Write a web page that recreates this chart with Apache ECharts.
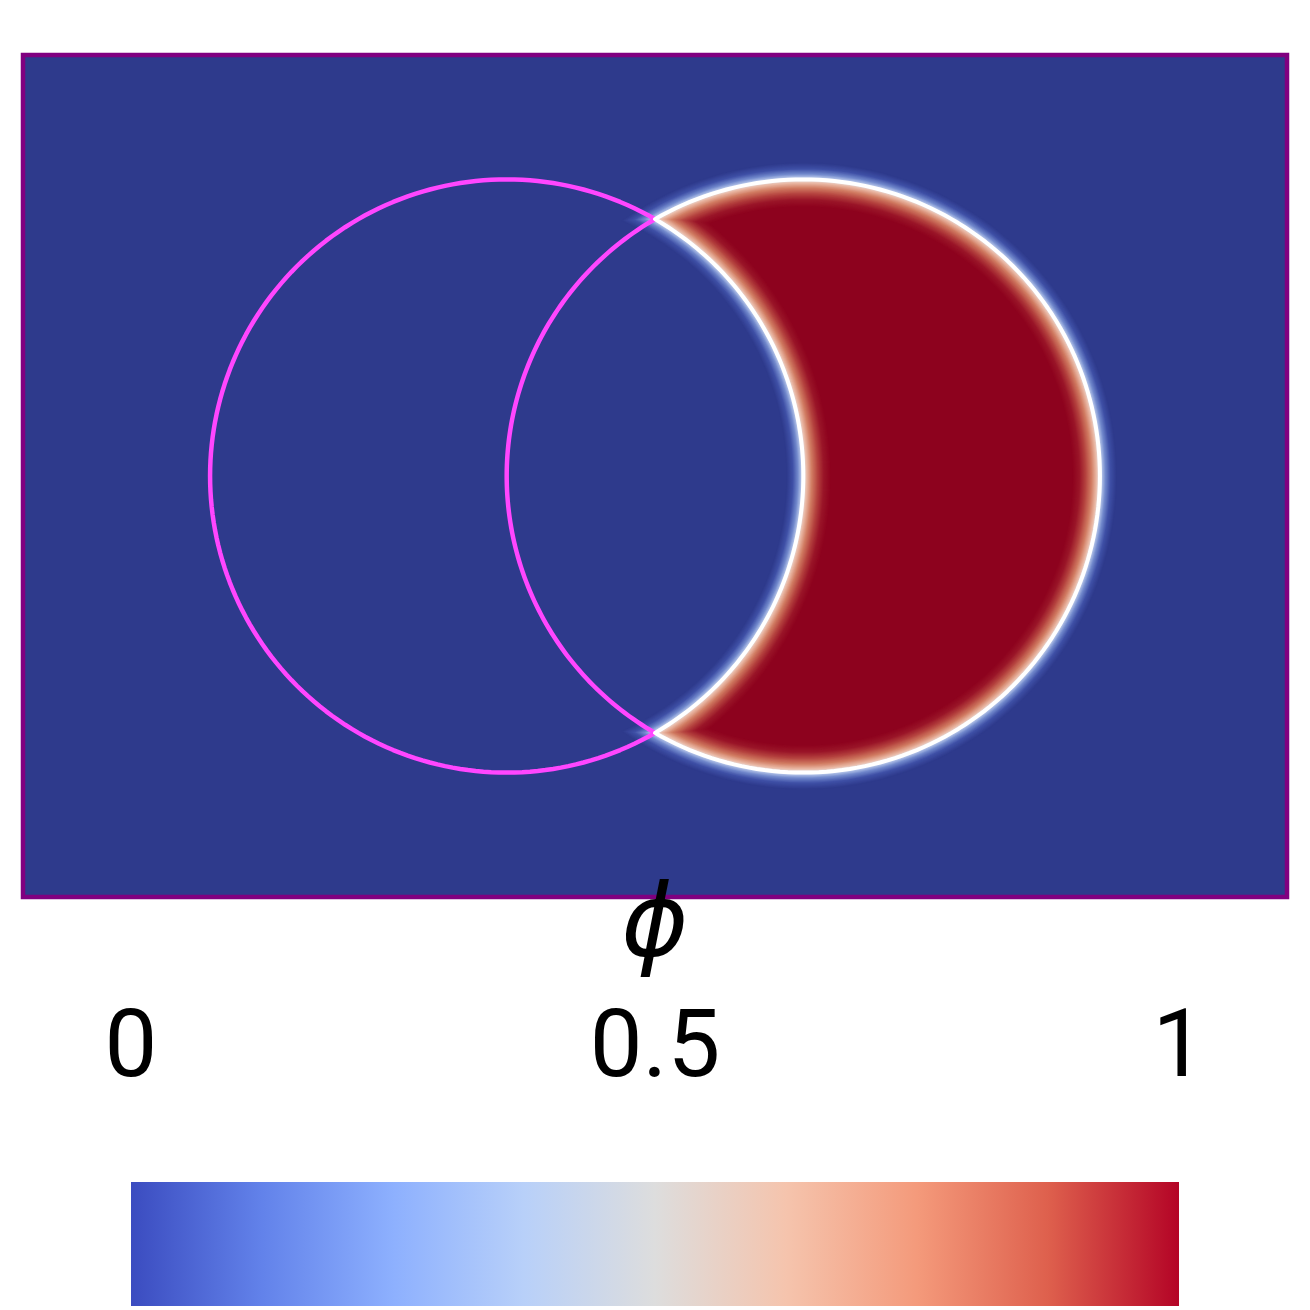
<!DOCTYPE html>
<html>
<head>
<meta charset="utf-8">
<script src="https://cdn.jsdelivr.net/npm/echarts@6/dist/echarts.min.js"></script>
<style>
  html, body { margin: 0; padding: 0; background: #fff; }
  #chart { width: 1310px; height: 1310px; }
</style>
</head>
<body>
<div id="chart"></div>
<script>
// domain of the phi field
const domainX = [0, 1.5];
const domainY = [0, 1];
// two circles: 0 = left (outlined magenta), 1 = right (phi = 1 crescent)
const circleX = [0.574, 0.926];
const circleY = [0.5, 0.5];
const circleR = [0.352, 0.352];
// colour bar
const colorbarTicks = [0, 0.5, 1];
const coolwarmPos = [0, 0.125, 0.25, 0.375, 0.5, 0.625, 0.75, 0.875, 1];
const coolwarmColors = ["#3b4cc0", "#6282ea", "#8db0fe", "#b8d0f9", "#dddddd", "#f5c4ad", "#f49a7b", "#de604d", "#b40426"];

// look of the diffuse interface (px from the circle edge, + = inside)
const edgeOffsets = [-17, -11, -6, -2, 0, 3, 8, 14, 20, 27];
const edgeColors = ["#2e3a8c", "#3f50a6", "#7188cc", "#bccbec", "#e4e2e6", "#eab9a6", "#d17c62", "#b4413e", "#9a1528", "#8d021e"];

function hexRgb(h) {
  return [1, 3, 5].map((i) => parseInt(h.substr(i, 2), 16));
}
function edgeColor(s) {
  if (s <= edgeOffsets[0]) return edgeColors[0];
  for (let i = 1; i < edgeOffsets.length; i++) {
    if (s <= edgeOffsets[i]) {
      const t = (s - edgeOffsets[i - 1]) / (edgeOffsets[i] - edgeOffsets[i - 1]);
      const a = hexRgb(edgeColors[i - 1]), b = hexRgb(edgeColors[i]);
      const c = a.map((v, k) => Math.round(v + (b[k] - v) * t));
      return "rgb(" + c.join(",") + ")";
    }
  }
  return edgeColors[edgeColors.length - 1];
}

// intersection of the two circles, in px
function meet(c0, c1, r0, r1) {
  const d = c1[0] - c0[0];
  const a = (r0 * r0 - r1 * r1 + d * d) / (2 * d);
  const h = Math.sqrt(Math.max(r0 * r0 - a * a, 0));
  return { alpha: Math.atan2(h, c0[0] + a - c1[0]), beta: Math.atan2(h, a) };
}

function arc(c, r, t0, t1, n, pts) {
  for (let i = 0; i <= n; i++) {
    const t = t0 + ((t1 - t0) * i) / n;
    pts.push([c[0] + r * Math.cos(t), c[1] + r * Math.sin(t)]);
  }
  return pts;
}

// right circle minus left circle
function rightCrescent(c0, c1, r0, r1) {
  const m = meet(c0, c1, r0, r1);
  const pts = arc(c1, r1, -m.alpha, m.alpha, 160, []);
  return arc(c0, r0, m.beta, -m.beta, 120, pts);
}
// left circle minus right circle
function leftCrescent(c0, c1, r0, r1) {
  const m = meet(c0, c1, r0, r1);
  const pts = arc(c0, r0, -m.beta, m.beta - 2 * Math.PI, 160, []);
  return arc(c1, r1, m.alpha, 2 * Math.PI - m.alpha, 120, pts);
}

const chart = echarts.init(document.getElementById("chart"));

const stops = coolwarmPos.map((p, i) => ({ offset: p, color: coolwarmColors[i] }));

const option = {
  animation: false,
  title: {
    text: "\u03d5",
    left: "center",
    top: 873,
    textStyle: {
      fontFamily: "DejaVu Sans",
      fontStyle: "italic",
      fontWeight: "normal",
      fontSize: 102,
      color: "#000",
    },
  },
  grid: [
    {
      left: 23,
      top: 55,
      width: 1264,
      height: 842,
      show: true,
      backgroundColor: "#2e3a8c",
      borderColor: "#800080",
      borderWidth: 4.5,
    },
    { left: 131, top: 1182, width: 1048, height: 124 },
  ],
  xAxis: [
    { gridIndex: 0, type: "value", min: domainX[0], max: domainX[1], show: false },
    {
      gridIndex: 1,
      type: "value",
      position: "top",
      min: colorbarTicks[0],
      max: colorbarTicks[colorbarTicks.length - 1],
      interval: colorbarTicks[1] - colorbarTicks[0],
      axisLine: { show: false },
      axisTick: { show: false },
      splitLine: { show: false },
      axisLabel: {
        margin: 83,
        fontFamily: "Roboto",
        fontSize: 94,
        color: "#000",
        formatter: (v) => String(v),
      },
    },
  ],
  yAxis: [
    { gridIndex: 0, type: "value", min: domainY[0], max: domainY[1], show: false },
    { gridIndex: 1, type: "value", min: 0, max: 1, show: false },
  ],
  series: [
    {
      type: "custom",
      xAxisIndex: 0,
      yAxisIndex: 0,
      data: [[circleX[0], circleY[0], circleR[0], circleX[1], circleY[1], circleR[1]]],
      renderItem: function (params, api) {
        const c0 = api.coord([api.value(0), api.value(1)]);
        const c1 = api.coord([api.value(3), api.value(4)]);
        const r0 = api.size([api.value(2), 0])[0];
        const r1 = api.size([api.value(5), 0])[0];
        const children = [];
        // diffuse crescent, drawn from outside in
        for (let s = edgeOffsets[0]; s <= edgeOffsets[edgeOffsets.length - 1]; s += 1) {
          children.push({
            type: "polygon",
            shape: { points: rightCrescent(c0, c1, r0 + s, r1 - s) },
            style: { fill: edgeColor(s) },
          });
        }
        children.push({
          type: "polygon",
          shape: { points: leftCrescent(c0, c1, r0, r1) },
          style: { fill: null, stroke: "#ff46ff", lineWidth: 4.5, lineJoin: "round" },
        });
        children.push({
          type: "polygon",
          shape: { points: rightCrescent(c0, c1, r0, r1) },
          style: { fill: null, stroke: "#ffffff", lineWidth: 4, lineJoin: "round" },
        });
        return { type: "group", children: children };
      },
    },
    {
      type: "custom",
      xAxisIndex: 1,
      yAxisIndex: 1,
      data: [[colorbarTicks[0], colorbarTicks[colorbarTicks.length - 1]]],
      renderItem: function (params, api) {
        const p0 = api.coord([api.value(0), 1]);
        const p1 = api.coord([api.value(1), 0]);
        return {
          type: "rect",
          shape: { x: p0[0], y: p0[1], width: p1[0] - p0[0], height: p1[1] - p0[1] },
          style: { fill: new echarts.graphic.LinearGradient(0, 0, 1, 0, stops) },
        };
      },
    },
  ],
};

chart.setOption(option);
</script>
</body>
</html>
